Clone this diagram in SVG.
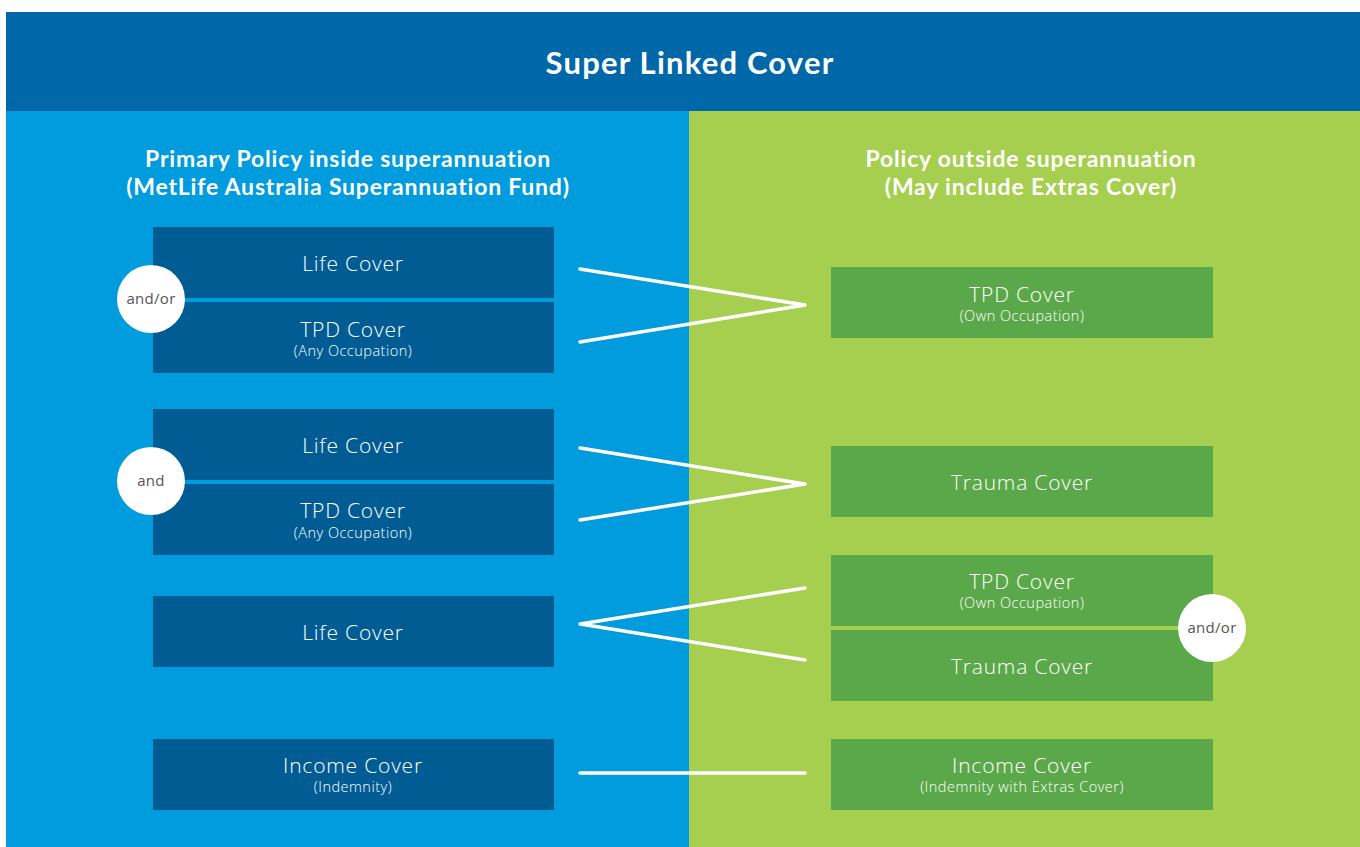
<svg xmlns="http://www.w3.org/2000/svg" width="1360" height="847" viewBox="0 0 1360 847">
<style>
.lb{fill:#005C93}
.gb{fill:#5BA84A}
.t{font-family:"Open Sans","Liberation Sans",sans-serif;font-weight:300;fill:#fff;text-anchor:middle}
.m{font-size:21px;letter-spacing:0.8px}
.s{font-size:14.5px;letter-spacing:0.5px}
.h{font-family:Lato,"Liberation Sans",sans-serif;font-weight:700;fill:#fff;text-anchor:middle}
.c{fill:#fff}
.ct{font-family:"Open Sans","Liberation Sans",sans-serif;font-size:15px;letter-spacing:0.3px;fill:#555;text-anchor:middle}
.ln{stroke:#fff;stroke-width:3.5;fill:none;stroke-linecap:round;stroke-linejoin:round}
</style>
<rect x="0" y="0" width="1360" height="847" fill="#fff"/>
<rect x="6" y="12" width="1354" height="99" fill="#0067A8"/>
<rect x="6" y="111" width="683" height="736" fill="#009CDD"/>
<rect x="689" y="111" width="671" height="736" fill="#A6CF4F"/>
<text class="h" x="690" y="74" font-size="31" letter-spacing="1.2">Super Linked Cover</text>
<text class="h" x="348" y="167" font-size="23" letter-spacing="0.8">Primary Policy inside superannuation</text>
<text class="h" x="348" y="195" font-size="23" letter-spacing="0.8">(MetLife Australia Superannuation Fund)</text>
<text class="h" x="1031" y="167" font-size="23" letter-spacing="0.8">Policy outside superannuation</text>
<text class="h" x="1031" y="195" font-size="23" letter-spacing="0.8">(May include Extras Cover)</text>
<g id="connectors">
<polyline class="ln" points="580,269 805,305 580,342"/>
<polyline class="ln" points="580,448 805,484 580,520"/>
<polyline class="ln" points="805,588 580,624 805,660"/>
<line class="ln" x1="580" y1="773" x2="805" y2="773"/>
</g>
<g id="l-life1"><rect class="lb" x="153" y="227" width="401" height="71"/><text class="t m" x="353" y="271">Life Cover</text></g>
<g id="l-tpd1"><rect class="lb" x="153" y="302" width="401" height="71"/><text class="t m" x="353" y="337">TPD Cover</text><text class="t s" x="353" y="356">(Any Occupation)</text></g>
<g id="l-andor1"><circle class="c" cx="151" cy="299" r="34"/><text class="ct" x="151" y="304">and/or</text></g>
<g id="l-life2"><rect class="lb" x="153" y="409" width="401" height="71"/><text class="t m" x="353" y="453">Life Cover</text></g>
<g id="l-tpd2"><rect class="lb" x="153" y="484" width="401" height="71"/><text class="t m" x="353" y="518">TPD Cover</text><text class="t s" x="353" y="538">(Any Occupation)</text></g>
<g id="l-and2"><circle class="c" cx="151" cy="481" r="34"/><text class="ct" x="151" y="486">and</text></g>
<g id="l-life3"><rect class="lb" x="153" y="596" width="401" height="71"/><text class="t m" x="353" y="640">Life Cover</text></g>
<g id="l-income"><rect class="lb" x="153" y="739" width="401" height="71"/><text class="t m" x="353" y="773">Income Cover</text><text class="t s" x="353" y="792">(Indemnity)</text></g>
<g id="r-tpd1"><rect class="gb" x="831" y="267" width="382" height="71"/><text class="t m" x="1022" y="302">TPD Cover</text><text class="t s" x="1022" y="321">(Own Occupation)</text></g>
<g id="r-trauma1"><rect class="gb" x="831" y="446" width="382" height="71"/><text class="t m" x="1022" y="490">Trauma Cover</text></g>
<g id="r-tpd2"><rect class="gb" x="831" y="555" width="382" height="71"/><text class="t m" x="1022" y="589">TPD Cover</text><text class="t s" x="1022" y="608">(Own Occupation)</text></g>
<g id="r-trauma2"><rect class="gb" x="831" y="630" width="382" height="71"/><text class="t m" x="1022" y="674">Trauma Cover</text></g>
<g id="r-andor2"><circle class="c" cx="1212" cy="628" r="34"/><text class="ct" x="1212" y="633">and/or</text></g>
<g id="r-income"><rect class="gb" x="831" y="739" width="382" height="71"/><text class="t m" x="1022" y="773">Income Cover</text><text class="t s" x="1022" y="792">(Indemnity with Extras Cover)</text></g>
</svg>
